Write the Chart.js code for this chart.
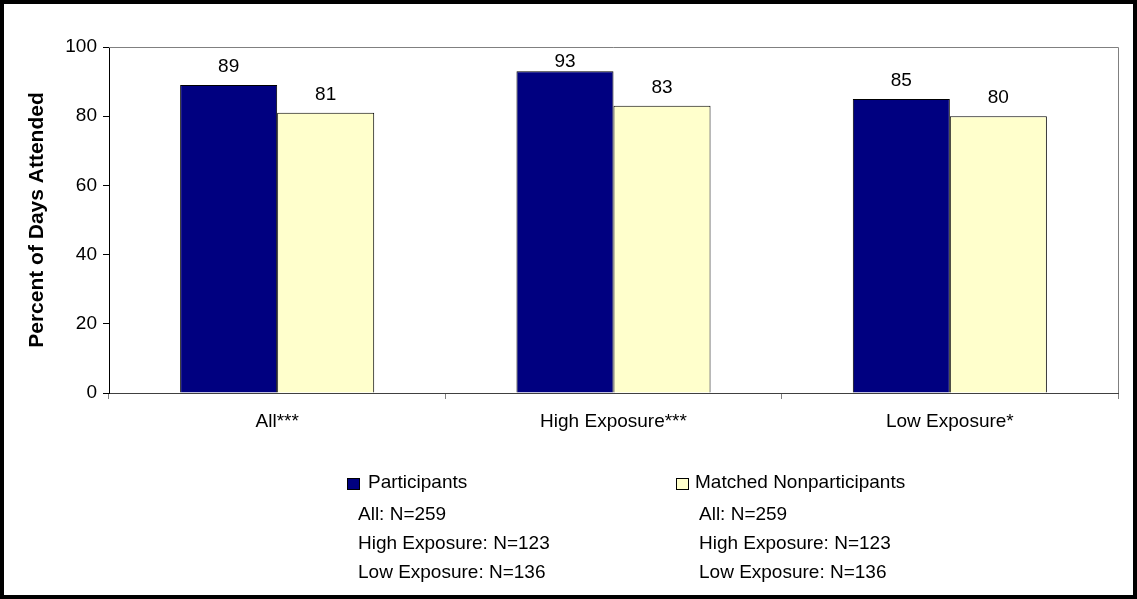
<!DOCTYPE html>
<html>
<head>
<meta charset="utf-8">
<script src="https://cdn.jsdelivr.net/npm/chart.js@4/dist/chart.umd.min.js"></script>
<style>
  body { margin: 0; background: #fff; }
  #wrap { width: 1137px; height: 599px; }
</style>
</head>
<body>
<div id="wrap"><canvas id="myChart" width="1137" height="599"></canvas></div>
<script>
var categories = ['All***', 'High Exposure***', 'Low Exposure*'];
var participants = [89, 93, 85];
var nonparticipants = [81, 83, 80];
var yTicks = [0, 20, 40, 60, 80, 100];
var sampleNotes = ['All: N=259', 'High Exposure: N=123', 'Low Exposure: N=136'];

var FONT = '"Liberation Sans", Arial, sans-serif';

// labels above bars, plot frame, legend with N= notes, outer border
var extras = {
    id: 'extras',
    afterDatasetsDraw: function (chart) {
        var ctx = chart.ctx;
        var top = chart.chartArea.top;
        ctx.save();
        ctx.font = '19px ' + FONT;
        ctx.fillStyle = '#000';
        ctx.textAlign = 'center';
        ctx.textBaseline = 'alphabetic';
        chart.data.datasets.forEach(function (ds, i) {
            chart.getDatasetMeta(i).data.forEach(function (bar, j) {
                ctx.fillText(ds.data[j], bar.x, Math.max(bar.y - 13, top + 20));
            });
        });
        ctx.restore();
    },
    afterDraw: function (chart) {
        var ctx = chart.ctx;
        var a = chart.chartArea;
        ctx.save();
        // gray top/right plot frame
        ctx.strokeStyle = '#808080';
        ctx.lineWidth = 1;
        ctx.beginPath();
        ctx.moveTo(a.left, a.top + 0.5);
        ctx.lineTo(a.right + 0.5, a.top + 0.5);
        ctx.lineTo(a.right + 0.5, a.bottom);
        ctx.stroke();

        // legend
        var cols = [
            { box: 347, label: 368, notes: 358 },
            { box: 676, label: 695, notes: 699 }
        ];
        ctx.font = '19px ' + FONT;
        ctx.textBaseline = 'alphabetic';
        ctx.textAlign = 'left';
        chart.data.datasets.forEach(function (ds, i) {
            var c = cols[i];
            ctx.fillStyle = ds.backgroundColor;
            ctx.fillRect(c.box, 478, 13, 12);
            ctx.strokeStyle = '#000';
            ctx.lineWidth = 1;
            ctx.strokeRect(c.box + 0.5, 478.5, 12, 11);
            ctx.fillStyle = '#000';
            ctx.fillText(ds.label, c.label, 488);
            sampleNotes.forEach(function (t, k) {
                ctx.fillText(t, c.notes, 520 + k * 29);
            });
        });

        // outer border
        ctx.strokeStyle = '#000';
        ctx.lineWidth = 4;
        ctx.strokeRect(2, 2, chart.width - 4, chart.height - 4);
        ctx.restore();
    }
};

var ctx = document.getElementById('myChart').getContext('2d');
var chart = new Chart(ctx, {
    type: 'bar',
    data: {
        labels: categories,
        datasets: [{
            label: 'Participants',
            backgroundColor: '#000080',
            borderColor: '#000',
            borderWidth: 1,
            data: participants
        }, {
            label: 'Matched Nonparticipants',
            backgroundColor: '#FFFFCC',
            borderColor: '#000',
            borderWidth: 1,
            data: nonparticipants
        }]
    },
    options: {
        responsive: false,
        animation: false,
        layout: { padding: { left: 20, right: 19, top: 47, bottom: 146 } },
        categoryPercentage: 0.577,
        barPercentage: 1,
        plugins: {
            legend: { display: false },
            tooltip: { enabled: false }
        },
        scales: {
            x: {
                grid: {
                    offset: true,
                    drawOnChartArea: false,
                    tickLength: 6,
                    color: '#808080'
                },
                border: { color: '#404040' },
                ticks: {
                    color: '#000',
                    font: { family: FONT, size: 19 },
                    padding: 11,
                    maxRotation: 0
                },
                afterFit: function (s) { s.height = 60; }
            },
            y: {
                min: 0,
                max: 100,
                afterBuildTicks: function (s) {
                    s.ticks = yTicks.map(function (v) { return { value: v }; });
                },
                grid: {
                    drawOnChartArea: false,
                    tickLength: 6,
                    color: '#000'
                },
                border: { color: '#000' },
                ticks: {
                    color: '#000',
                    font: { family: FONT, size: 19 },
                    padding: 6
                },
                title: {
                    display: true,
                    text: 'Percent of Days Attended',
                    color: '#000',
                    font: { family: FONT, size: 21, weight: 'bold' },
                    padding: { top: 5, bottom: 0 }
                },
                afterFit: function (s) { s.width = 89; }
            }
        }
    },
    plugins: [extras]
});
</script>
</body>
</html>
